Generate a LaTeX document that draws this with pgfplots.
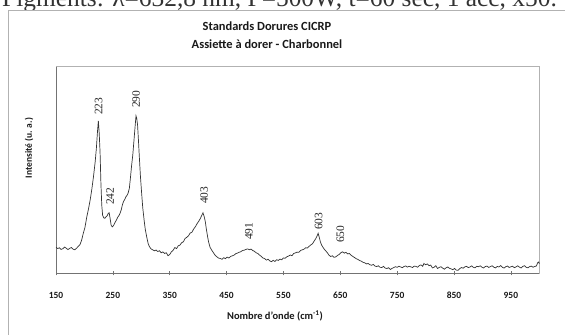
\documentclass[border=0pt]{standalone}
\usepackage{fontspec}
\setmainfont{Carlito}
\newfontfamily\serifnum{Liberation Serif}
\usepackage{pgfplots}
\pgfplotsset{compat=1.18}
\begin{document}
\begin{tikzpicture}[x=1bp,y=1bp]
\useasboundingbox (-56,-60.7) rectangle (509,273.3);
% clipped caption line above the chart
\begin{scope}
\clip (-56,-60.7) rectangle (509,273.3);
\node[anchor=base west, inner sep=0, font=\serifnum\fontsize{25.5}{28}\selectfont, text=black!80] at (-54,266.8) {\smash{Pigments: λ=632,8 nm, P=500W, t=60 sec, 1 acc, x50.}};
% chart area frame
\fill[white] (-48,263.3) rectangle (600,-100);
\draw[black!30, line width=0.8bp] (-48,263.3) rectangle (600,-100);
\end{scope}
\begin{axis}[
  at={(0,0)}, anchor=south west,
  scale only axis, width=483.3bp, height=206.6bp,
  xmin=150, xmax=1000, ymin=0, ymax=206.6,
  xtick={150,250,...,950}, ytick=\empty,
  xtick pos=bottom, tick align=center, major tick length=4bp,
  tick style={black!55, line width=0.6bp},
  axis line style={black!30, line width=0.7bp},
  /pgf/number format/assume math mode=true,
  xticklabel style={font=\bfseries\fontsize{9.5}{11}\selectfont, anchor=base, yshift=-23.3bp, text=black!90},
  clip=false,
]
\draw[black!55, line width=0.7bp] (rel axis cs:0,1) -- (rel axis cs:0,0) -- (rel axis cs:1,0);
\addplot[black!80, line width=0.7bp, mark=none] coordinates {
(150,26.0)(153,24.8)(156,25.5)(159,23.9)(162,24.6)(165,26.2)(168,25.1)(171,23.7)(174,24.9)(177,25.8)(180,24.2)(183,23.5)(186,25.0)(189,26.8)(192,28.5)
(195,33)(198,40)(201,46)(204,56)(207,64)(210,73)(213,84)(216,97)(219,112)(221,125)(223,142)(224.5,152.5)(226,140)(227.5,121)(229,90)(230.5,68)(232,58)(234,55.5)(236,55)(238,56.5)(240,57.5)(242,60)(243.5,60.5)(245,55.5)(247,48)(249,46.5)(251,47.5)(253.5,50.5)(256,53)(258.5,56)(261,58)(263,60.5)(265,64)(267,69)(269,72)(271,74)(273,76.5)(275,78)(277,80.5)(279,85)(281,96)(283,108)(285,118)(287,132)(289,146)(290.7,157.5)(292,155)(293.5,148)(295,133)(296.5,117)(298.5,97)(300.5,81)(302.5,66)(305,53)(307,44)(309.5,36.5)(312,30)(314,27)(317,24.5)(320,23.5)(323,22.5)(326,23.3)(329,21.8)(332,22.6)(335,20.5)(338,21.4)(341,19.8)(344,20.6)(347,17.6)(350,18.8)(353,21.5)(356,23.0)(359,25.8)(362,24.7)(365,27.5)(368,28.2)(371,30.6)(374,31.5)(377,34.8)(380,36.0)(383,37.5)(386,40.3)(389,41.0)(392,44.2)(395,46.5)(398,49.5)(401,52.0)(404,55.0)(406,57.5)(408.5,60.5)(410.5,57)(412.5,52)(414.5,44)(416.5,37)(418.5,31)(421,26)(424,23)(427,20.5)(430,18)(433,16.5)(436,15.2)(439,14.8)(442,14.0)(445,15.6)(448,14.7)(451,16.2)(454,15.3)(457,16.8)(460,17.5)(463,18.1)(466,19.6)(469,20.2)(472,21.0)(475,21.6)(478,22.8)(481,23.1)(484,23.9)(487,24.4)(490,23.6)(493,24.2)(496,22.8)(499,22.0)(502,20.5)(505,19.8)(508,18.2)(511,17.0)(514,15.3)(517,14.8)(520,13.2)(523,14.1)(526,12.4)(529,11.6)(532,13.0)(535,11.8)(538,13.6)(541,12.9)(544,14.2)(547,13.5)(550,15.4)(553,15.0)(556,16.6)(559,17.2)(562,18.3)(565,17.6)(568,19.8)(571,20.4)(574,21.2)(577,21.0)(580,22.8)(583,23.5)(586,24.0)(589,25.6)(592,25.2)(595,26.9)(598,28.3)(601,29.5)(604,32.2)(607,34.8)(609,37.2)(611,40.0)(613,36.0)(615,31.5)(617,28.4)(619,26.5)(621,24.8)(624,22.6)(627,20.8)(630,18.2)(633,16.8)(636,17.5)(639,16.0)(642,16.4)(645,17.8)(648,18.9)(651,20.6)(654,21.5)(657,20.2)(660,21.0)(663,19.4)(666,19.8)(669,18.0)(672,16.9)(675,15.8)(678,14.6)(681,13.9)(684,12.8)(687,12.1)(690,11.0)(693,10.5)(696,9.4)(699,9.8)(702,8.6)(705,8.0)(708,8.9)(711,7.2)(714,6.8)(717,7.5)(720,6.0)(723,5.8)(726,6.9)(729,5.2)(732,4.8)(735,5.6)(738,3.8)(741,4.9)(744,5.7)(747,6.6)(750,6.0)(753,7.1)(756,6.4)(759,5.6)(762,6.8)(765,7.4)(768,6.2)(771,7.0)(774,6.5)(777,5.8)(780,7.2)(783,6.9)(786,6.1)(789,7.8)(792,8.4)(795,7.0)(797,9.8)(800,8.6)(803,9.4)(806,7.6)(809,8.2)(812,5.4)(815,6.1)(818,7.6)(821,4.8)(824,5.9)(827,6.6)(830,5.2)(833,4.1)(836,5.5)(839,6.3)(842,5.0)(845,4.4)(848,3.6)(851,4.9)(854,3.2)(857,3.0)(860,4.6)(863,5.8)(866,5.1)(869,6.4)(872,7.0)(875,5.7)(878,6.3)(881,7.4)(884,6.0)(887,5.5)(890,7.0)(893,6.6)(896,7.5)(899,6.2)(902,5.3)(905,6.8)(908,7.2)(911,5.9)(914,6.7)(917,7.6)(920,6.1)(923,5.4)(926,6.9)(929,6.3)(932,7.7)(935,6.0)(938,5.2)(941,6.6)(944,7.3)(947,5.8)(950,6.5)(953,7.1)(956,5.6)(959,6.4)(962,7.5)(965,6.2)(968,5.3)(971,6.9)(974,7.6)(977,6.0)(980,5.5)(983,6.7)(986,7.2)(989,6.1)(992,6.8)(995,7.4)(997,10.5)(999,11.3)(1000,9.5)
};
\begin{scope}[every node/.style={rotate=90, anchor=west, inner sep=0, font=\serifnum\fontsize{11.5}{13}\selectfont, text=black!85}]
\node at (axis cs:225.1,158.3) {223};
\node at (axis cs:245,68.3) {242};
\node at (axis cs:290.7,165.3) {290};
\node at (axis cs:410.3,69.3) {403};
\node at (axis cs:489.4,33.3) {491};
\node at (axis cs:611.7,43.3) {603};
\node at (axis cs:650.3,30.3) {650};
\end{scope}
\end{axis}
% titles and axis labels
\node[anchor=base, inner sep=0, font=\bfseries\fontsize{12.5}{14}\selectfont, text=black!90] at (211,243.3) {Standards Dorures CICRP};
\node[anchor=base, inner sep=0, font=\bfseries\fontsize{12.5}{14}\selectfont, text=black!90] at (211,224.6) {Assiette à dorer - Charbonnel};
\node[anchor=base, inner sep=0, font=\bfseries\fontsize{10.5}{12}\selectfont, text=black!90] at (219,-46.5) {Nombre d'onde (cm\textsuperscript{-1})};
\node[rotate=90, anchor=center, inner sep=0, font=\bfseries\fontsize{9.5}{11}\selectfont, text=black!90] at (-27,125.3) {Intensité (u. a.)};
\end{tikzpicture}
\end{document}
